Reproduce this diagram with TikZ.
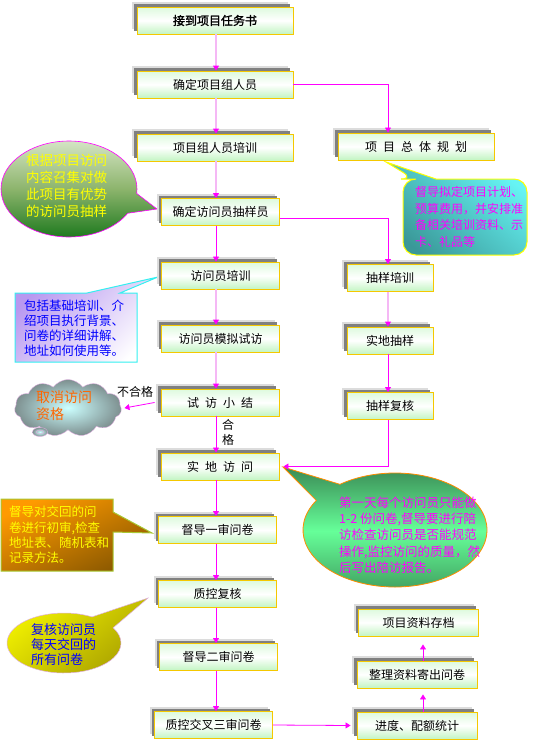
\documentclass[tikz,border=0pt]{standalone}
\usepackage{fontspec}
\setmainfont{Noto Sans CJK SC}
\newfontfamily\cjkbold[FakeBold=1.5]{Noto Sans CJK SC}
\usetikzlibrary{arrows.meta,shadows,shapes.callouts,shapes.symbols,shapes.geometric,calc}
\definecolor{boxborder}{HTML}{F5C800}
\definecolor{boxtop}{HTML}{DDFADD}
\definecolor{boxbot}{HTML}{C2F5C2}
\definecolor{shdark}{HTML}{808080}
\definecolor{shlight}{HTML}{DCDCDC}
\definecolor{mag}{HTML}{FF00FF}
\definecolor{pinkline}{HTML}{F5B8F5}
\definecolor{gltop}{HTML}{D4E4C4}
\definecolor{glmid}{HTML}{8CB46C}
\definecolor{glbot}{HTML}{1F7A1F}
\definecolor{cylight}{HTML}{66F4F4}
\definecolor{cydark}{HTML}{3A9898}
\definecolor{lav}{HTML}{B898F0}
\definecolor{lavborder}{HTML}{33F0F0}
\definecolor{cloudin}{HTML}{CCFFFF}
\definecolor{cloudout}{HTML}{7D8F8F}
\definecolor{cloudborder}{HTML}{E0B0E0}
\definecolor{orangetxt}{HTML}{FF6600}
\definecolor{grtop}{HTML}{3A8A55}
\definecolor{grmid}{HTML}{66FF99}
\definecolor{grbot}{HTML}{3E9A5C}
\definecolor{grborder}{HTML}{FF8C00}
\definecolor{ortop}{HTML}{FF9A00}
\definecolor{orbot}{HTML}{8A5800}
\definecolor{orborder}{HTML}{A8C832}
\definecolor{yetop}{HTML}{F4F400}
\definecolor{yebot}{HTML}{A8A000}
\definecolor{txtblue}{HTML}{0000FF}
\definecolor{txtyellow}{HTML}{FFFF00}
\newcommand{\gapx}{\hspace{6pt}}
\begin{document}
\begin{tikzpicture}[x=1pt,y=-1pt,
  box/.style={draw=boxborder, line width=0.9pt, top color=boxtop, bottom color=boxbot, middle color=white,
    minimum height=27pt, minimum width=118pt, inner sep=0pt, font=\fontsize{12}{14}\selectfont,
    general shadow={fill=shlight, shadow xshift=-5pt, shadow yshift=5pt},
    general shadow={fill=shdark, shadow xshift=-3pt, shadow yshift=3pt}},
  conn/.style={draw=mag, line width=0.8pt, -{Triangle[length=5pt,width=6pt]}},
  pconn/.style={draw=pinkline, line width=2pt, -{Triangle[length=5pt,width=6pt,color=mag]}},
  lbl/.style={font=\fontsize{12}{15}\selectfont, inner sep=0pt},
  ctext/.style={inner sep=0pt, align=left, anchor=west}
]
\useasboundingbox (0,0) rectangle (539,740);
\coordinate (mx) at (216,0);
\coordinate (rx) at (388,0);
\coordinate (cx) at (423,0);

% ---------- callouts (background) ----------
\node[ellipse callout, callout absolute pointer={(157,209)}, callout pointer arc=25,
  draw=mag, line width=0.6pt, top color=gltop, bottom color=glbot, middle color=glmid,
  minimum width=136pt, minimum height=96pt, inner sep=0pt] (gl) at (69,189) {};
\node[ctext, text=txtyellow, font=\fontsize{13.5}{17}\selectfont] (glt) at (26,186)
  {根据项目访问\\内容召集对做\\此项目有优势\\的访问员抽样};

\path[draw=txtyellow, line width=1pt, top color=cylight, bottom color=cydark, shading angle=-40]
  (386,162) -- (436,179) [rounded corners=13pt] -- (527,179) -- (527,255) -- (403,255) -- (403,179) -- (414,179) [sharp corners] -- cycle;
\node[ctext, text=mag, font=\fontsize{12}{16.7}\selectfont] (cyt) at (415,217)
  {督导拟定项目计划、\\预算费用，并安排准\\备相关培训资料、示\\卡、礼品等};

\path[draw=lavborder, line width=1pt, top color=lav, bottom color=white, shading angle=45]
  (15,293) -- (87,293) -- (158,277) -- (120,293) -- (137,293) -- (137,362) -- (15,362) -- cycle;
\node[ctext, text=txtblue, font=\fontsize{12.5}{15}\selectfont] (lvt) at (24,328)
  {包括基础培训、介\\绍项目执行背景、\\问卷的详细讲解、\\地址如何使用等。};

\node[cloud, cloud puffs=11, cloud puff arc=110, aspect=1.9, minimum width=107pt, minimum height=57pt,
  inner sep=0pt, draw=cloudborder, inner color=cloudin, outer color=cloudout] (cl) at (68,408) {};
\node[ellipse, draw=cloudborder, inner color=cloudin, outer color=cloudout, minimum width=15pt,
  minimum height=9pt, inner sep=0pt] (cb) at (40,432) {};
\node[ellipse, draw=cloudborder, minimum width=8pt, minimum height=4pt, inner sep=0pt] (cb2) at (40,432) {};
\node[ctext, text=orangetxt, font=\fontsize{14}{17}\selectfont] (clt) at (36,406) {取消访问\\资格};

\node[ellipse callout, callout absolute pointer={(283,467)}, callout pointer arc=22,
  draw=grborder, line width=0.8pt, top color=grtop, bottom color=grbot, middle color=grmid,
  minimum width=184pt, minimum height=114pt, inner sep=0pt] (gr) at (395,530) {};
\node[ctext, text=mag, font=\fontsize{12.5}{16.3}\selectfont] (grt) at (339,535)
  {第一天每个访问员只能做\\1-2 份问卷,督导要进行陪\\访检查访问员是否能规范\\操作,监控访问的质量，然\\后写出陪访报告。};

\path[draw=orborder, line width=1pt, top color=ortop, bottom color=orbot, shading angle=25]
  (1,499) -- (113,499) -- (113,512) -- (152,533) -- (113,532) -- (113,571) -- (1,571) -- cycle;
\node[ctext, text=txtyellow, font=\fontsize{12.5}{15.4}\selectfont] (ort) at (9,535)
  {督导对交回的问\\卷进行初审,检查\\地址表、随机表和\\记录方法。};

\node[ellipse callout, callout absolute pointer={(148,598)}, callout pointer arc=30,
  draw=cloudborder, line width=0.5pt, top color=yetop, bottom color=yebot, shading angle=40,
  minimum width=114pt, minimum height=60pt, inner sep=0pt] (ye) at (64,643) {};
\node[ctext, text=txtblue, font=\fontsize{13}{15}\selectfont] (yet) at (31,645)
  {复核访问员\\每天交回的\\所有问卷};

% ---------- boxes ----------
\node[box, minimum width=156pt] (b1) at (215,20.5) {\cjkbold 接到项目任务书};
\node[box, minimum width=156pt] (b2) at (215,84.5) {确定项目组人员};
\node[box, minimum width=156pt] (b3) at (215,147.5) {项目组人员培训};
\node[box, minimum width=156pt] (b4) at (416,146.5) {项\gapx 目\gapx 总\gapx 体\gapx 规\gapx 划};
\node[box] (b5) at (220.5,212) {确定访问员抽样员};
\node[box] (b6) at (220.5,275.5) {访问员培训};
\node[box] (b7) at (220.5,338.5) {访问员模拟试访};
\node[box] (b8) at (220,402.5) {试\gapx 访\gapx 小\gapx 结};
\node[box] (b9) at (220,466.5) {实\gapx 地\gapx 访\gapx 问};
\node[box] (b10) at (217.5,530) {督导一审问卷};
\node[box] (b11) at (217.5,594) {质控复核};
\node[box] (b12) at (218.5,657) {督导二审问卷};
\node[box] (b13) at (213.5,725) {质控交叉三审问卷};
\node[box, minimum width=86pt] (r1) at (390,278) {抽样培训};
\node[box, minimum width=86pt] (r2) at (390,340.5) {实地抽样};
\node[box, minimum width=86pt] (r3) at (390,406) {抽样复核};
\node[box, minimum width=120pt] (c1) at (417,725.5) {进度、配额统计};
\node[box, minimum width=120pt] (c2) at (417,674.5) {整理资料寄出问卷};
\node[box, minimum width=120pt] (c3) at (418.5,622.5) {项目资料存档};

% ---------- connectors ----------
\draw[pconn] (b1.south -| mx) -- (b2.north -| mx);
\draw[pconn] (b2.south -| mx) -- (b3.north -| mx);
\draw[pconn] (b3.south -| mx) -- (b5.north -| mx);
\draw[conn] (b5.south -| mx) -- (b6.north -| mx);
\draw[pconn] (b6.south -| mx) -- (b7.north -| mx);
\draw[pconn] (b7.south -| mx) -- (b8.north -| mx);
\draw[conn] (b8.south -| mx) -- (b9.north -| mx);
\draw[conn] (b9.south -| mx) -- (b10.north -| mx);
\draw[conn] (b10.south -| mx) -- (b11.north -| mx);
\draw[conn] (b11.south -| mx) -- (b12.north -| mx);
\draw[conn] (b12.south -| mx) -- (b13.north -| mx);
\draw[conn] (b2.east) -| (b4.north -| rx);
\draw[conn] ([yshift=-6pt]b5.east) -| (r1.north -| rx);
\draw[pconn] (r1.south -| rx) -- (r2.north -| rx);
\draw[conn] (r2.south -| rx) -- (r3.north -| rx);
\draw[conn] (r3.south -| rx) |- ([xshift=4pt]b9.east);
\draw[conn] (b13.east) -- ([xshift=-6pt]c1.west);
\draw[conn] (c1.north -| cx) -- ([yshift=-6pt]c2.south -| cx);
\draw[conn] (c2.north -| cx) -- ([yshift=-8pt]c3.south -| cx);
\draw[conn] ([xshift=-6pt]b8.west) -- ([xshift=3pt]cl.east);
\node[lbl] (ng) at (135,392) {不合格};
\node[lbl, align=center] (ok) at (228,432) {合\\格};
\end{tikzpicture}
\end{document}
